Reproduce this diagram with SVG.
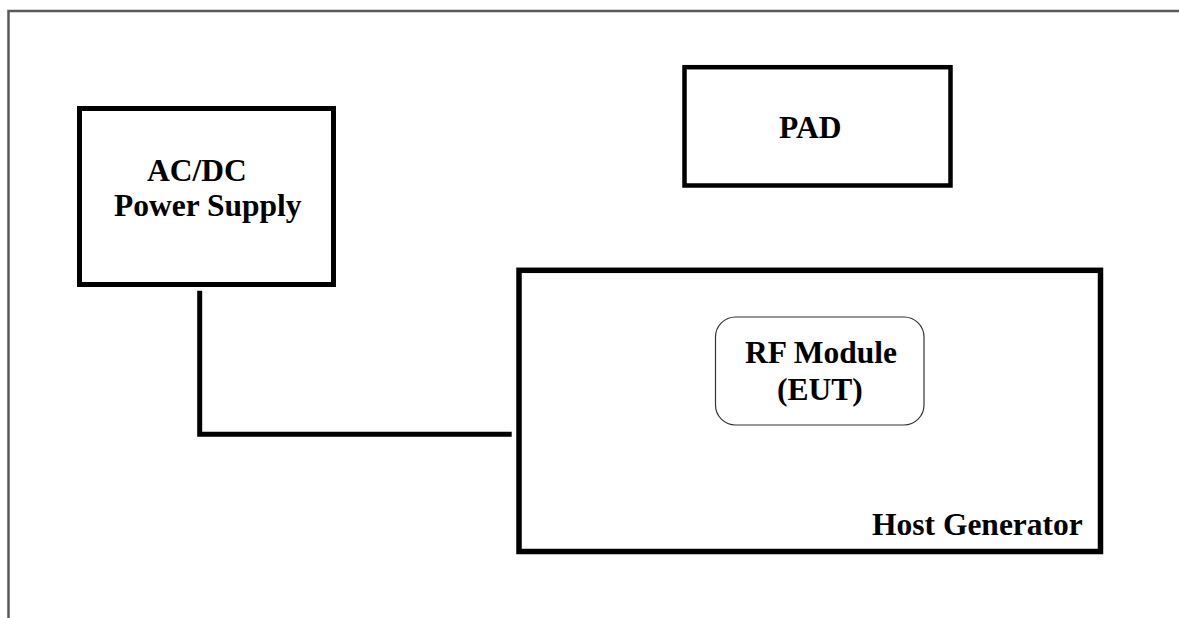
<svg xmlns="http://www.w3.org/2000/svg" width="1179" height="618" viewBox="0 0 1179 618">
  <style>
    .box { fill: none; stroke: #000; stroke-width: 5; }
    .lbl { font-family: "Liberation Serif", "Times New Roman", serif; font-weight: bold; font-size: 31.5px; fill: #000; }
    .wire { fill: none; stroke: #000; stroke-width: 5; stroke-linecap: butt; stroke-linejoin: miter; }
  </style>
  <rect width="1179" height="618" fill="#fff"/>
  <g id="frame">
    <path d="M8.5 618 V11 H1179" fill="none" stroke="#5a5a5a" stroke-width="2.5"/>
  </g>
  <g id="connectors">
    <polyline class="wire" points="199.7,290.7 199.7,434.2 511.7,434.2"/>
  </g>
  <g id="power-supply">
    <rect class="box" x="79.5" y="108.5" width="254" height="176"/>
    <text class="lbl" x="147" y="181">AC/DC</text>
    <text class="lbl" x="114" y="216">Power Supply</text>
  </g>
  <g id="pad">
    <rect class="box" x="684.5" y="67.2" width="266" height="118.3" style="stroke-width:4.5"/>
    <text class="lbl" x="779" y="137.7">PAD</text>
  </g>
  <g id="host-generator">
    <rect class="box" x="519" y="270.3" width="581.5" height="281.2" style="stroke-width:5.5"/>
    <text class="lbl" x="872" y="535">Host Generator</text>
  </g>
  <g id="rf-module">
    <rect x="715.5" y="317" width="208.5" height="108" rx="20" ry="20" fill="#fff" stroke="#333" stroke-width="1.2"/>
    <text class="lbl" x="745" y="363.3">RF Module</text>
    <text class="lbl" x="777" y="400">(EUT)</text>
  </g>
</svg>
